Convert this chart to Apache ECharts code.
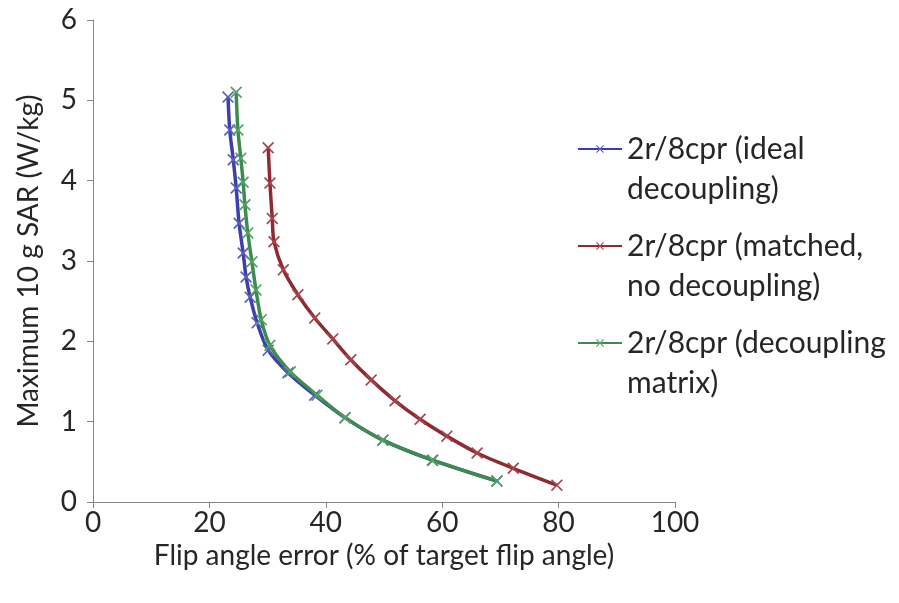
<!DOCTYPE html>
<html>
<head>
<meta charset="utf-8">
<script src="https://cdn.jsdelivr.net/npm/echarts@6/dist/echarts.min.js"></script>
<style>
  html, body { margin: 0; padding: 0; background: #fff; }
  #chart { width: 899px; height: 603px; }
</style>
</head>
<body>
<div id="chart"></div>
<script>
// Flip angle error (%) vs. maximum 10 g SAR (W/kg) for the 2r/8cpr array
const seriesNames = [
  '2r/8cpr (ideal\ndecoupling)',
  '2r/8cpr (matched,\nno decoupling)',
  '2r/8cpr (decoupling\nmatrix)'
];

const idealX = [23.2, 23.5, 24.1, 24.6, 25.1, 25.8, 26.3, 27.0, 28.2, 30.1, 33.5, 38.1, 43.3, 49.8, 58.3, 69.4];
const idealY = [5.04, 4.63, 4.26, 3.91, 3.47, 3.10, 2.80, 2.55, 2.23, 1.89, 1.61, 1.33, 1.05, 0.77, 0.52, 0.26];

const matchedX = [30.1, 30.4, 30.8, 31.1, 32.7, 35.2, 38.1, 41.2, 44.3, 47.8, 51.9, 56.2, 60.8, 66.0, 72.2, 79.7];
const matchedY = [4.41, 3.97, 3.53, 3.24, 2.89, 2.58, 2.29, 2.03, 1.77, 1.52, 1.26, 1.03, 0.82, 0.61, 0.42, 0.21];

const matrixX = [24.6, 24.9, 25.4, 25.8, 26.1, 26.6, 27.3, 28.0, 28.9, 30.4, 33.9, 38.5, 43.3, 49.8, 58.4, 69.4];
const matrixY = [5.10, 4.63, 4.28, 3.98, 3.70, 3.35, 2.99, 2.64, 2.27, 1.95, 1.62, 1.33, 1.05, 0.77, 0.52, 0.26];

const xTicks = { min: 0, max: 100, step: 20 };
const yTicks = { min: 0, max: 6, step: 1 };

const pair = (xs, ys) => xs.map((x, i) => [x, ys[i]]);

// thin "x" cross used as the point marker
const crossMark = 'path://M1,0L5,4L9,0L10,1L6,5L10,9L9,10L5,6L1,10L0,9L4,5L0,1Z';

const lineColors = ['#3c40a8', '#8c2b32', '#3b8c4e'];
const markColors = ['#5a5fc0', '#a5464c', '#55a066'];

const font = 'Lato, "Open Sans", sans-serif';
const textColor = '#262626';
const axisFont = 28;
const legendFont = 30;

function makeSeries(name, data, i) {
  return {
    name: name,
    type: 'line',
    data: data,
    smooth: 0.3,
    smoothMonotone: 'none',
    symbol: crossMark,
    symbolSize: 12,
    showAllSymbol: true,
    lineStyle: { color: lineColors[i], width: 3.5 },
    itemStyle: { color: markColors[i] },
    emphasis: { disabled: true },
    z: 2 + i
  };
}

const chart = echarts.init(document.getElementById('chart'), null, { renderer: 'canvas' });

chart.setOption({
  animation: false,
  backgroundColor: '#ffffff',
  grid: { left: 93, right: 224, top: 20, bottom: 101, containLabel: false },
  xAxis: {
    type: 'value',
    min: xTicks.min, max: xTicks.max, interval: xTicks.step,
    name: 'Flip angle error (% of target flip angle)',
    nameLocation: 'middle',
    nameGap: 36,
    nameTextStyle: { fontFamily: font, fontSize: axisFont, color: textColor },
    axisLine: { show: true, lineStyle: { color: '#868686', width: 1 } },
    axisTick: { show: true, length: 6, lineStyle: { color: '#868686' } },
    axisLabel: { fontFamily: font, fontSize: axisFont, color: textColor, margin: 7 },
    splitLine: { show: false }
  },
  yAxis: {
    type: 'value',
    min: yTicks.min, max: yTicks.max, interval: yTicks.step,
    name: 'Maximum 10 g SAR (W/kg)',
    nameLocation: 'middle',
    nameGap: 50,
    nameTextStyle: { fontFamily: font, fontSize: axisFont, color: textColor },
    axisLine: { show: true, lineStyle: { color: '#868686', width: 1 } },
    axisTick: { show: true, length: 6, lineStyle: { color: '#868686' } },
    axisLabel: { fontFamily: font, fontSize: axisFont, color: textColor, margin: 16 },
    splitLine: { show: false }
  },
  legend: {
    orient: 'vertical',
    left: 572,
    top: 84,
    itemWidth: 44,
    itemHeight: 10,
    itemGap: -23,
    selectedMode: false,
    // leading blank line keeps the marker level with the first text line
    formatter: name => '\n' + name,
    textStyle: {
      fontFamily: font, fontSize: legendFont, color: textColor,
      lineHeight: 40
    },
    data: seriesNames
  },
  series: [
    makeSeries(seriesNames[0], pair(idealX, idealY), 0),
    makeSeries(seriesNames[1], pair(matchedX, matchedY), 1),
    makeSeries(seriesNames[2], pair(matrixX, matrixY), 2)
  ]
});
</script>
</body>
</html>
